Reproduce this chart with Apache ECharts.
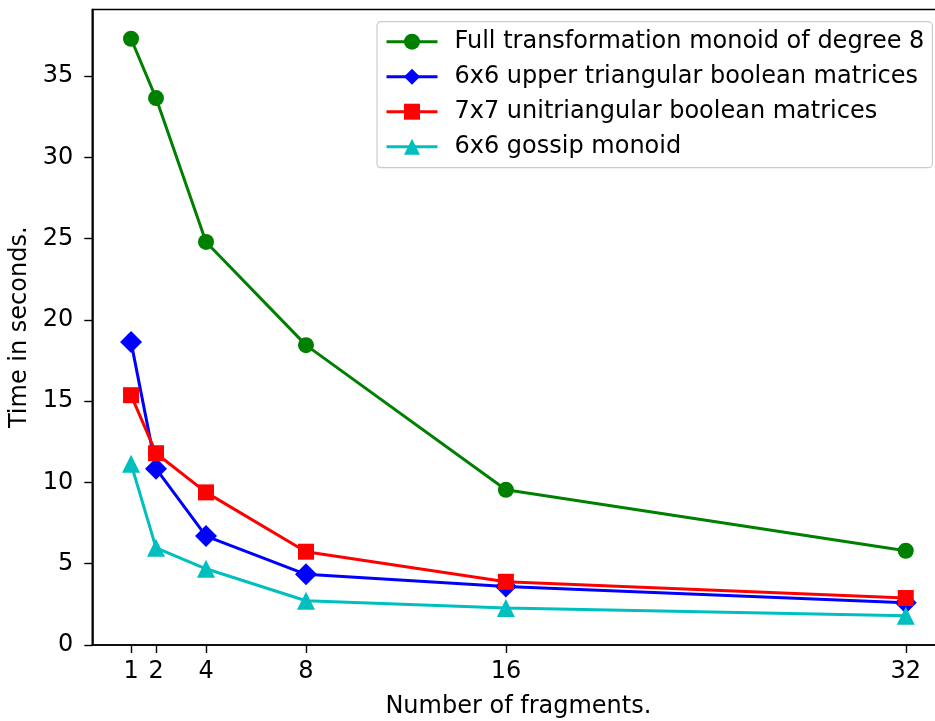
<!DOCTYPE html>
<html>
<head>
<meta charset="utf-8">
<script src="https://cdn.jsdelivr.net/npm/echarts@6/dist/echarts.min.js"></script>
<style>
html,body{margin:0;padding:0;background:#fff;}
#chart{width:935px;height:721px;}
</style>
</head>
<body>
<div id="chart"></div>
<script>
var fragments = [1, 2, 4, 8, 16, 32];
var xTicks = [1, 2, 4, 8, 16, 32];
var yTicks = [0, 5, 10, 15, 20, 25, 30, 35];
var seriesNames = [
  'Full transformation monoid of degree 8',
  '6x6 upper triangular boolean matrices',
  '7x7 unitriangular boolean matrices',
  '6x6 gossip monoid'
];
var fullTransformation = [37.3, 33.65, 24.8, 18.45, 9.55, 5.8];
var upperTriangular = [18.65, 10.85, 6.7, 4.35, 3.6, 2.6];
var unitriangular = [15.37, 11.8, 9.39, 5.74, 3.89, 2.89];
var gossip = [11.15, 5.98, 4.69, 2.72, 2.27, 1.8];

function pairs(vals) {
  return fragments.map(function (x, i) { return [x, vals[i]]; });
}

var FONT = 'DejaVu Sans';
var FS = 24;
var chart = echarts.init(document.getElementById('chart'));

function mkSeries(name, vals, color, symbol, size) {
  return {
    name: name,
    type: 'line',
    data: pairs(vals),
    symbol: symbol,
    symbolSize: size,
    showSymbol: true,
    lineStyle: { color: color, width: 3 },
    itemStyle: { color: color, borderWidth: 0 },
    emphasis: { disabled: true }
  };
}

chart.setOption({
  animation: false,
  backgroundColor: '#ffffff',
  textStyle: { fontFamily: FONT },
  grid: {
    left: 92.3, top: 9.5, right: -9.5, bottom: 76,
    outerBoundsMode: 'none',
    show: true, borderColor: '#000', borderWidth: 1.6,
    backgroundColor: 'transparent', containLabel: false
  },
  legend: {
    orient: 'vertical',
    left: 377, top: 21.7,
    itemWidth: 51, itemHeight: 20, itemGap: 11,
    padding: [8, 8, 9, 8],
    borderColor: '#cccccc', borderWidth: 1.2, borderRadius: 4,
    backgroundColor: 'rgba(255,255,255,0.85)',
    lineStyle: { width: 3 },
    textStyle: { fontFamily: FONT, fontSize: FS, color: '#000', padding: [0, 0, 0, 12] },
    data: seriesNames
  },
  xAxis: {
    type: 'value', min: -0.55, max: 33.55,
    name: 'Number of fragments.', nameLocation: 'middle', nameGap: 50,
    nameTextStyle: { fontFamily: FONT, fontSize: FS, color: '#000' },
    axisLine: { show: true, onZero: false, lineStyle: { color: '#000', width: 1.6 } },
    axisTick: { show: true, length: 8, lineStyle: { color: '#000', width: 1.4 }, customValues: xTicks },
    axisLabel: { fontFamily: FONT, fontSize: FS, color: '#000', margin: 15, customValues: xTicks },
    splitLine: { show: false }
  },
  yAxis: {
    type: 'value', min: 0, max: 39.1,
    name: 'Time in seconds.', nameLocation: 'middle', nameGap: 53,
    nameTextStyle: { fontFamily: FONT, fontSize: FS, color: '#000' },
    axisLine: { show: true, onZero: false, lineStyle: { color: '#000', width: 1.6 } },
    axisTick: { show: true, length: 8, lineStyle: { color: '#000', width: 1.4 }, customValues: yTicks },
    axisLabel: { fontFamily: FONT, fontSize: FS, color: '#000', margin: 19, customValues: yTicks },
    splitLine: { show: false }
  },
  series: [
    mkSeries(seriesNames[0], fullTransformation, '#008000', 'circle', 16),
    mkSeries(seriesNames[1], upperTriangular, '#0000ff', 'diamond', 22),
    mkSeries(seriesNames[2], unitriangular, '#ff0000', 'rect', 16),
    mkSeries(seriesNames[3], gossip, '#00bfbf', 'triangle', 18)
  ]
});
</script>
</body>
</html>
